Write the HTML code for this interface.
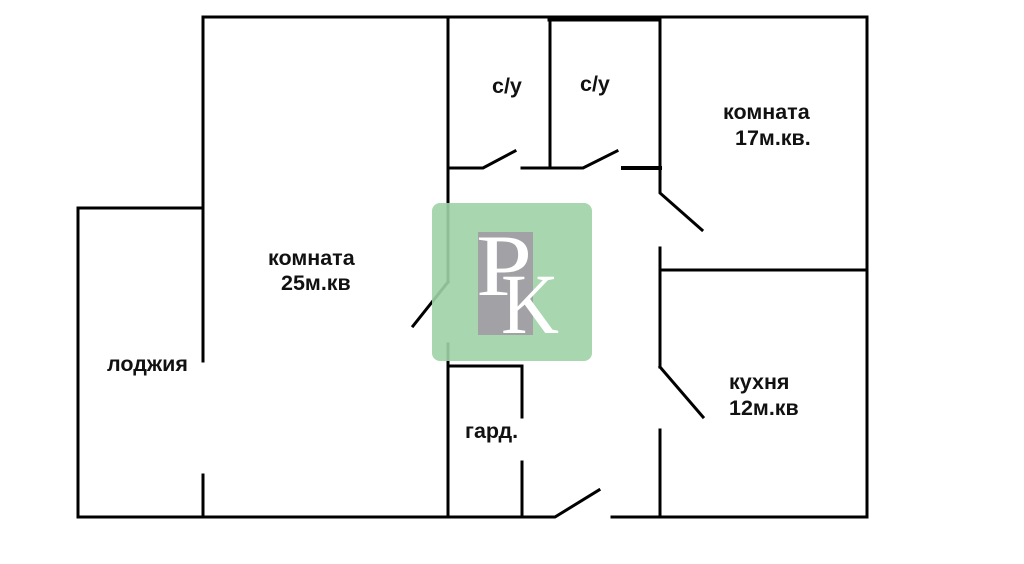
<!DOCTYPE html>
<html><head><meta charset="utf-8"><style>
html,body{margin:0;padding:0;background:#fff;width:1024px;height:564px;overflow:hidden}
</style></head><body>
<svg width="1024" height="564" viewBox="0 0 1024 564" xmlns="http://www.w3.org/2000/svg">
<g stroke="#000" stroke-width="3" fill="none" stroke-linecap="square">
<line x1="203" y1="17" x2="867" y2="17"/>
<line x1="550" y1="19" x2="659" y2="19" stroke-width="5"/>
<line x1="867" y1="17" x2="867" y2="517"/>
<line x1="203" y1="17" x2="203" y2="361"/>
<line x1="203" y1="475" x2="203" y2="517"/>
<polyline points="203,208 78,208 78,517 555,517 599,490"/>
<line x1="612" y1="517" x2="867" y2="517"/>
<line x1="448" y1="17" x2="448" y2="282"/>
<line x1="448" y1="282" x2="413" y2="326"/>
<line x1="448" y1="344" x2="448" y2="517"/>
<polyline points="448,168 483,168 515,151"/>
<polyline points="522,168 583,168 617,151"/>
<line x1="623" y1="168" x2="660" y2="168" stroke-width="4"/>
<line x1="550" y1="17" x2="550" y2="168"/>
<polyline points="660,17 660,193 702,230"/>
<line x1="660" y1="248" x2="660" y2="367"/>
<line x1="660" y1="367" x2="703" y2="417"/>
<line x1="660" y1="430" x2="660" y2="517"/>
<line x1="660" y1="270" x2="867" y2="270"/>
<polyline points="448,366 522,366 522,417"/>
<line x1="522" y1="462" x2="522" y2="517"/>
</g>
<rect x="432" y="203" width="160" height="158" rx="8" fill="#9fd2a6" opacity="0.9"/>
<rect x="478" y="232" width="55" height="103" fill="#a2a2a6"/>
<text x="476" y="295" font-family="Liberation Serif,serif" font-size="88" fill="#fff" textLength="56" lengthAdjust="spacingAndGlyphs">P</text>
<text x="501" y="333" font-family="Liberation Serif,serif" font-size="86" fill="#fff" textLength="58" lengthAdjust="spacingAndGlyphs">K</text>
<g font-family="Liberation Sans,sans-serif" font-weight="bold" font-size="21.5" fill="#111">
<text x="492" y="93">с/у</text>
<text x="580" y="91">с/у</text>
<text x="723" y="119">комната</text>
<text x="735" y="145">17м.кв.</text>
<text x="268" y="265">комната</text>
<text x="281" y="290">25м.кв</text>
<text x="107" y="371">лоджия</text>
<text x="729" y="389">кухня</text>
<text x="729" y="415">12м.кв</text>
<text x="465" y="438">гард.</text>
</g>
</svg>
</body></html>
